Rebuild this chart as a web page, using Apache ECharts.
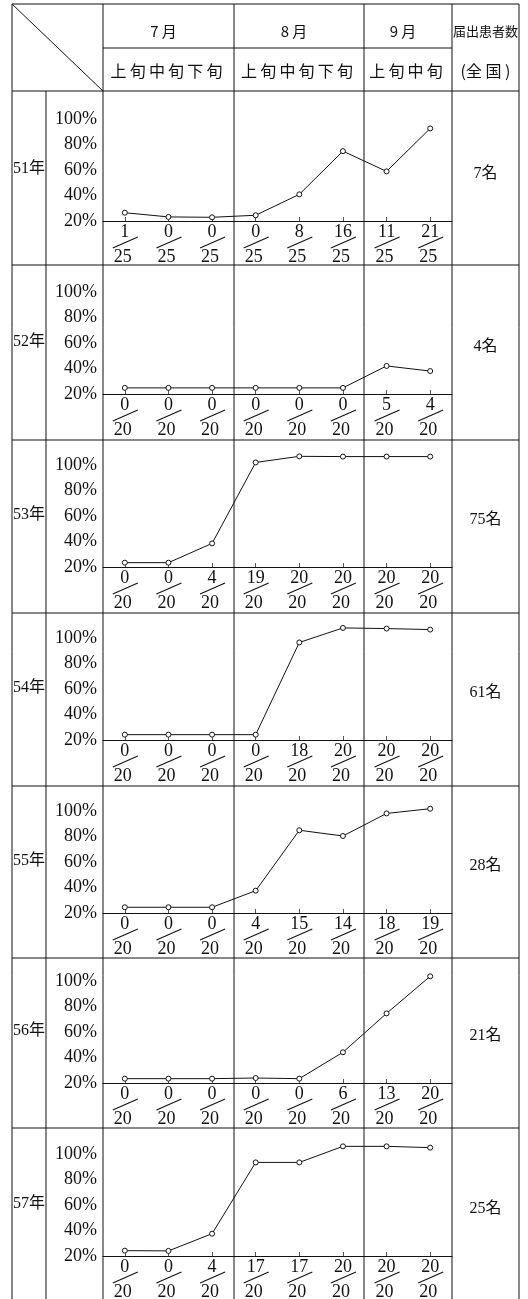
<!DOCTYPE html>
<html>
<head>
<meta charset="utf-8">
<script src="https://cdn.jsdelivr.net/npm/echarts@6/dist/echarts.min.js"></script>
<style>
html, body { margin: 0; padding: 0; background: #fff; }
#chart { width: 528px; height: 1299px; }
</style>
</head>
<body>
<div id="chart"></div>
<script>
// ヘッダー
const months = ['7 月', '8 月', '9 月'];
const periods = [['上旬', '中旬', '下旬'], ['上旬', '中旬', '下旬'], ['上旬', '中旬']];
const countTitle = '届出患者数';
const countSub = '(全 国 )';

// 年ごとのデータ
const years = ['51年', '52年', '53年', '54年', '55年', '56年', '57年'];
const counts = ['7名', '4名', '75名', '61名', '28名', '21名', '25名'];
const yTicks = [20, 40, 60, 80, 100];
const numerators = [
    [1, 0, 0, 0, 8, 16, 11, 21],
    [0, 0, 0, 0, 0, 0, 5, 4],
    [0, 0, 4, 19, 20, 20, 20, 20],
    [0, 0, 0, 0, 18, 20, 20, 20],
    [0, 0, 0, 4, 15, 14, 18, 19],
    [0, 0, 0, 0, 0, 6, 13, 20],
    [0, 0, 4, 17, 17, 20, 20, 20]
];
const denominators = [25, 20, 20, 20, 20, 20, 20];
// 図から読んだ折れ線の位置 (%)
const rates = [
    [26.5, 23.2, 22.9, 24.5, 40.9, 74.8, 58.9, 92.6],
    [24.8, 24.8, 24.8, 24.8, 24.8, 24.8, 42, 38],
    [23.4, 23.4, 38.5, 102, 106.8, 106.6, 106.6, 106.6],
    [24.2, 24.2, 24.2, 24.2, 96.5, 107.9, 107.4, 106.6],
    [24.5, 24.5, 24.5, 37.5, 84.9, 80.4, 98.1, 101.8],
    [23.4, 23.4, 23.4, 23.9, 23.4, 44.1, 74.6, 103.7],
    [24.2, 24.0, 37.5, 93.4, 93.4, 106, 106, 105]
];

// レイアウト
const colX = [12, 46, 103, 234, 364, 452, 519];
const topY = 4, headMidY = 48, headBotY = 91, bottomY = 1299;
const rowTops = [91, 265, 440, 613, 786, 958, 1128];
const baselines = [221, 394, 567, 740, 913, 1083, 1256];
const pxPerPct = 1.275;
const ink = '#111';
const serif = '"Liberation Serif", "Noto Sans CJK JP", serif';
const sans = '"Noto Sans CJK JP", sans-serif';

const categories = periods.flat();
const yMin = 20, yMax = 120;
const gridH = (yMax - yMin) * pxPerPct;

let grids = [], xAxes = [], yAxes = [], series = [];
years.forEach((y, k) => {
    grids.push({
        left: colX[2], width: colX[5] - colX[2],
        top: baselines[k] - gridH, height: gridH,
        outerBoundsMode: 'none'
    });
    xAxes.push({
        gridIndex: k, type: 'category', data: categories, boundaryGap: true,
        axisLine: {show: true, lineStyle: {color: ink, width: 1.2}},
        axisTick: {show: true, inside: true, alignWithLabel: true, length: 4, lineStyle: {color: '#555'}},
        axisLabel: {show: false},
        splitLine: {show: false}
    });
    yAxes.push({
        gridIndex: k, type: 'value', min: yMin, max: yMax, interval: 20,
        axisLine: {show: false}, axisTick: {show: false}, splitLine: {show: false},
        axisLabel: {
            showMaxLabel: false, margin: 6, color: ink,
            fontFamily: serif, fontSize: 18, padding: [0, 0, 6, 0],
            formatter: function (v) { return yTicks.indexOf(v) >= 0 ? v + '%' : ''; }
        }
    });
    series.push({
        type: 'line', xAxisIndex: k, yAxisIndex: k, data: rates[k],
        symbol: 'circle', symbolSize: 5, showSymbol: true,
        lineStyle: {color: ink, width: 1},
        itemStyle: {color: '#fff', borderColor: ink, borderWidth: 1},
        silent: true, animation: false
    });
    // 分数ラベル (分子 / 分母)
    series.push({
        type: 'custom', xAxisIndex: k, yAxisIndex: k, clip: false, silent: true, animation: false,
        data: numerators[k].map((n, i) => [i, n, denominators[k]]),
        renderItem: function (params, api) {
            const p = api.coord([api.value(0), yMin]);
            const x = p[0], b = p[1];
            return {
                type: 'group',
                children: [
                    {type: 'text', style: {text: String(api.value(1)), x: x, y: b + 11, align: 'center', verticalAlign: 'middle', font: '18px ' + serif, fill: ink}},
                    {type: 'line', shape: {x1: x - 12, y1: b + 27, x2: x + 13, y2: b + 16}, style: {stroke: ink, lineWidth: 1.1}},
                    {type: 'text', style: {text: String(api.value(2)), x: x - 2, y: b + 36, align: 'center', verticalAlign: 'middle', font: '18px ' + serif, fill: ink}}
                ]
            };
        }
    });
});

// 表の罫線と文字
let graphics = [];
function hline(x1, x2, y) {
    graphics.push({type: 'line', silent: true, shape: {x1: x1, y1: y, x2: x2, y2: y}, style: {stroke: ink, lineWidth: 1}});
}
function vline(x, y1, y2) {
    graphics.push({type: 'line', silent: true, shape: {x1: x, y1: y1, x2: x, y2: y2}, style: {stroke: ink, lineWidth: 1}});
}
function label(text, x, y, font, align) {
    graphics.push({type: 'text', silent: true, style: {text: text, x: x, y: y, font: font, fill: ink, align: align || 'center', verticalAlign: 'middle'}});
}

hline(colX[0], colX[6], topY);
hline(colX[2], colX[5], headMidY);
rowTops.forEach(t => hline(colX[0], colX[6], t));
vline(colX[0], topY, bottomY);
vline(colX[1], headBotY, bottomY);
[2, 3, 4, 5, 6].forEach(c => vline(colX[c], topY, bottomY));
graphics.push({type: 'line', silent: true, shape: {x1: colX[0], y1: topY, x2: colX[2], y2: headBotY}, style: {stroke: ink, lineWidth: 1}});

months.forEach((m, i) => {
    const cx = (colX[i + 2] + colX[i + 3]) / 2;
    label(m, cx - 5, 31, '15px ' + sans);
    label(periods[i].join('').split('').join('\u2009'), cx - 2, 71, '16px ' + sans);
});
label(countTitle, (colX[5] + colX[6]) / 2, 31, '13px ' + sans);
label(countSub, (colX[5] + colX[6]) / 2, 71, '16px ' + sans);

years.forEach((y, k) => {
    label(y, colX[0] + 1, baselines[k] - 52, '16px ' + serif, 'left');
    label(counts[k], (colX[5] + colX[6]) / 2, baselines[k] - 47, '16px ' + serif);
});

const chart = echarts.init(document.getElementById('chart'));
chart.setOption({
    animation: false,
    backgroundColor: '#fff',
    grid: grids,
    xAxis: xAxes,
    yAxis: yAxes,
    series: series,
    graphic: graphics
});
</script>
</body>
</html>
